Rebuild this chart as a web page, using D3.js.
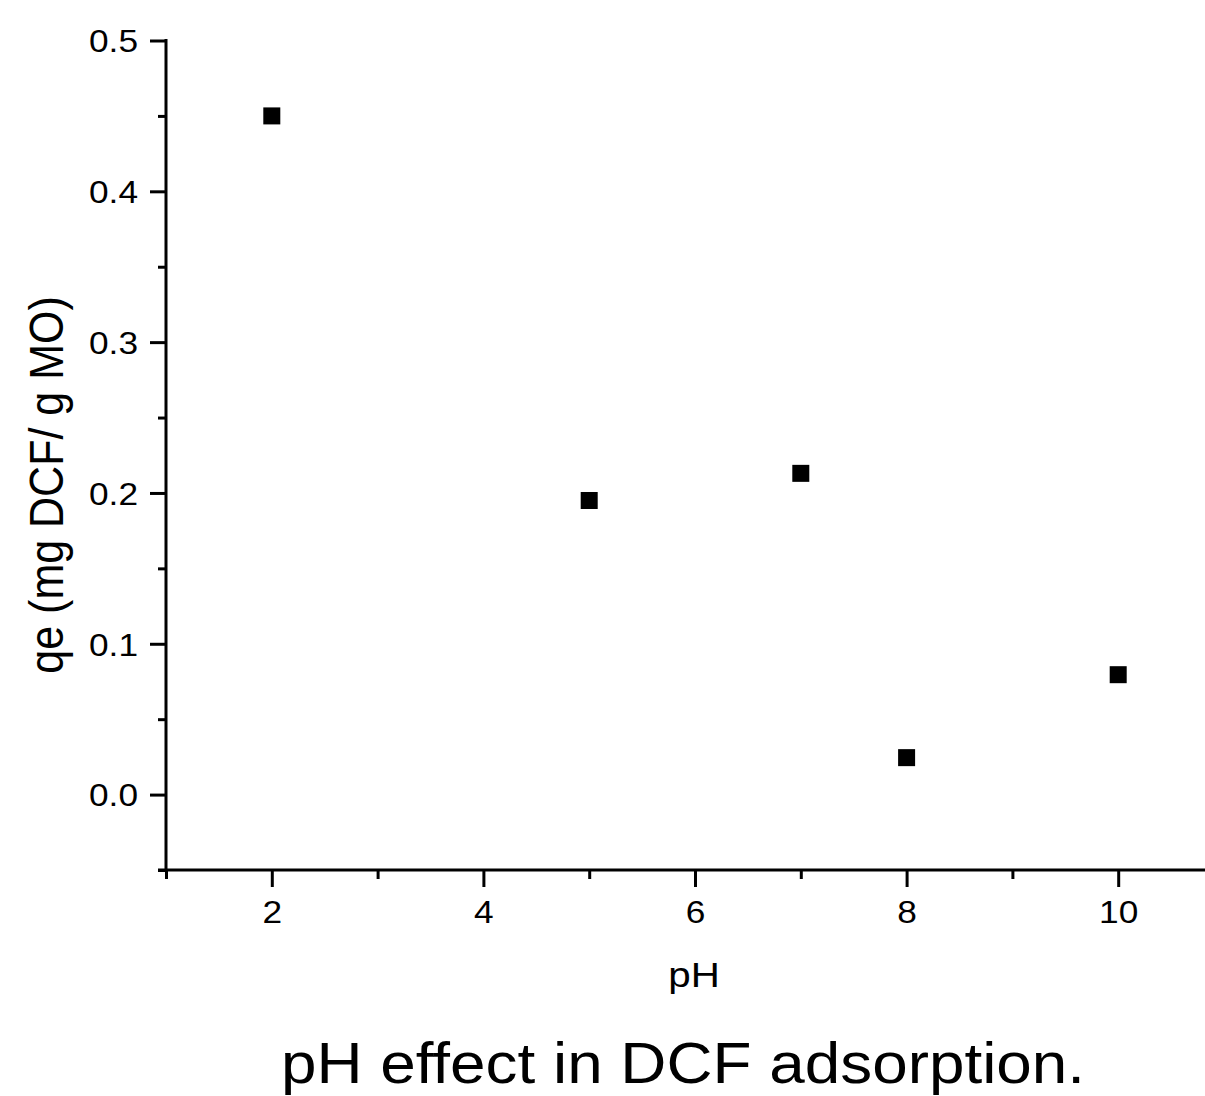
<!DOCTYPE html>
<html><head><meta charset="utf-8">
<script src="https://cdn.jsdelivr.net/npm/d3@7"></script>
<style>body{margin:0;background:#fff}svg{display:block}text{font-family:"Liberation Sans",Arial,sans-serif;fill:#000}</style>
</head><body>
<svg id="c" width="1205" height="1096"></svg>
<script>
const phValues = [2, 5, 7, 8, 10];
const qeValues = [0.45, 0.195, 0.213, 0.0245, 0.0795];
const xMajorTicks = [2, 4, 6, 8, 10];
const xMinorTicks = [1, 3, 5, 7, 9, 11];
const yMajorTicks = [0.0, 0.1, 0.2, 0.3, 0.4, 0.5];
const yMinorTicks = [-0.05, 0.05, 0.15, 0.25, 0.35, 0.45];
const xLabel = "pH";
const yLabel = "qe (mg DCF/ g MO)";
const caption = "pH effect in DCF adsorption.";

const svg = d3.select("#c");
const SX = 1.12;
const x = d3.scaleLinear().domain([1, 11]).range([166, 1224]);
const y = d3.scaleLinear().domain([-0.05, 0.5]).range([870, 40.5]);

// x axis
const gx = svg.append("g").attr("transform", `translate(0,${y(-0.05)})`)
  .call(d3.axisBottom(x).tickValues(xMinorTicks).tickSize(9).tickFormat(""));
const gxM = svg.append("g").attr("transform", `translate(0,${y(-0.05)})`)
  .call(d3.axisBottom(x).tickValues(xMajorTicks).tickSize(17).tickPadding(12).tickFormat(d3.format("d")));
[gx, gxM].forEach(g => {
  g.selectAll("path.domain").remove();
  g.selectAll(".tick line").attr("stroke", "#000").attr("stroke-width", 3);
});
gxM.selectAll(".tick text").attr("font-size", 31.5).attr("dy", null).attr("y", 0)
  .attr("transform", `translate(0,53) scale(${SX},1)`)
  .style("font-family", '"Liberation Sans",Arial,sans-serif');
svg.append("line").attr("x1", x(1) - 8).attr("x2", 1205).attr("y1", y(-0.05)).attr("y2", y(-0.05))
  .attr("stroke", "#000").attr("stroke-width", 3);

// y axis
const gy = svg.append("g").attr("transform", `translate(${x(1)},0)`)
  .call(d3.axisLeft(y).tickValues(yMinorTicks).tickSize(8).tickFormat(""));
const gyM = svg.append("g").attr("transform", `translate(${x(1)},0)`)
  .call(d3.axisLeft(y).tickValues(yMajorTicks).tickSize(16).tickPadding(10).tickFormat(d3.format(".1f")));
[gy, gyM].forEach(g => {
  g.selectAll("path.domain").remove();
  g.selectAll(".tick line").attr("stroke", "#000").attr("stroke-width", 3);
});
gyM.selectAll(".tick text").attr("font-size", 31.5).attr("x", 0).attr("dy", "0.36em")
  .attr("transform", `translate(-28,0) scale(${SX},1)`)
  .style("font-family", '"Liberation Sans",Arial,sans-serif');
svg.append("line").attr("x1", x(1)).attr("x2", x(1)).attr("y1", y(0.5) - 1.5).attr("y2", y(-0.05) + 1.5)
  .attr("stroke", "#000").attr("stroke-width", 3);

// points
const S = 17;
svg.append("g").selectAll("rect").data(phValues.map((p,i)=>({p, q: qeValues[i]}))).join("rect")
  .attr("x", d => x(d.p) - S/2).attr("y", d => y(d.q) - S/2)
  .attr("width", S).attr("height", S).attr("fill", "#000");

// axis titles
svg.append("text").attr("text-anchor", "middle").attr("font-size", 36)
  .attr("transform", `translate(694,987) scale(${SX},1)`).text(xLabel);
svg.append("text").attr("text-anchor", "middle").attr("font-size", 43)
  .attr("transform", `translate(63,485) scale(${SX},1) rotate(-90)`).text(yLabel);
svg.append("text").attr("text-anchor", "middle").attr("font-size", 57)
  .attr("transform", `translate(683,1083) scale(${SX},1)`).text(caption);
</script>
</body></html>
